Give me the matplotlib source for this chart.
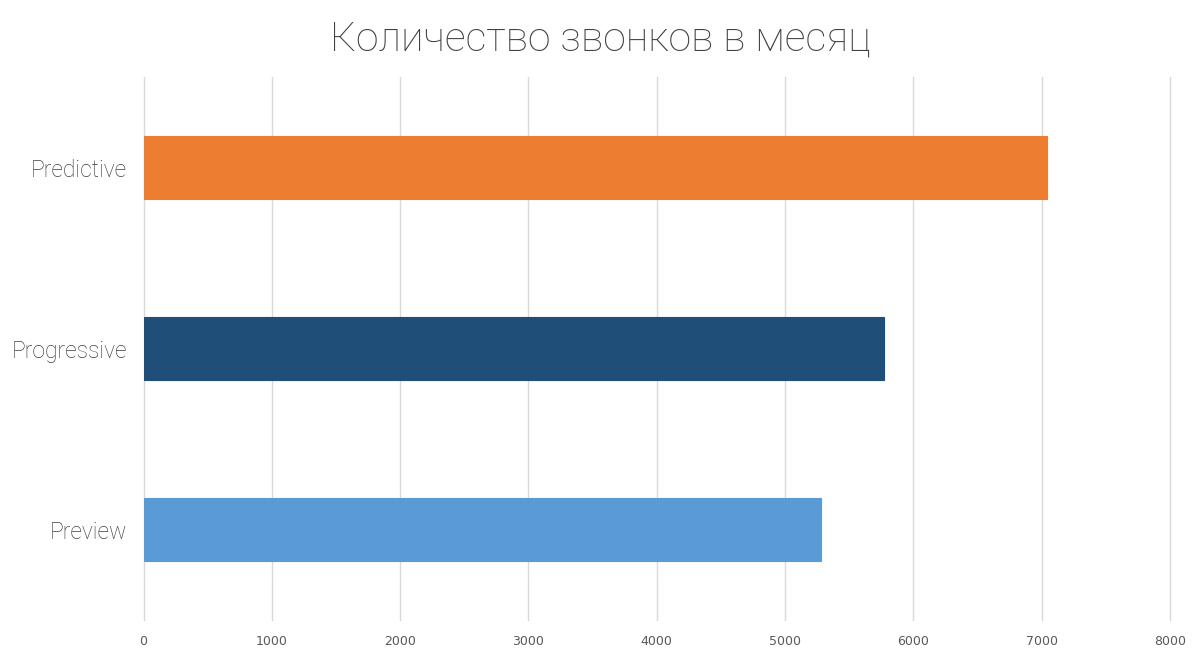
import matplotlib
matplotlib.use("Agg")
import matplotlib.pyplot as plt

# data
categories = ["Preview", "Progressive", "Predictive"]
calls = [5280, 5770, 7040]
colors = ["#5B9BD5", "#1F4E79", "#ED7D31"]
xticks = [0, 1000, 2000, 3000, 4000, 5000, 6000, 7000, 8000]
title = "Количество звонков в месяц"

fig = plt.figure(figsize=(12, 6.6), dpi=100)
ax = fig.add_axes([0.1196, 0.0606, 0.8554, 0.8227])

ax.barh(range(len(categories)), calls, height=0.35, color=colors,
        edgecolor=colors, linewidth=0.8, zorder=3)
ax.set_ylim(-0.5, 2.5)
ax.set_xlim(0, 8000)
ax.set_xticks(xticks)
ax.set_xticklabels([str(v) for v in xticks], fontsize=9, color="#595959")
ax.set_yticks(range(len(categories)))
ax.set_yticklabels(categories, fontsize=16.5, color="#404040",
                   family=["Roboto", "DejaVu Sans"], fontweight="light")
ax.tick_params(length=0, pad=12)
ax.tick_params(axis="x", pad=11)
ax.grid(axis="x", color="#d9d9d9", linewidth=1, zorder=0)
for gl in ax.get_xgridlines():
    gl.set_clip_on(False)
for s in ax.spines.values():
    s.set_visible(False)

fig.text(0.5, 0.94, title, ha="center", va="center", fontsize=29.5,
         color="#404040", family=["Roboto", "DejaVu Sans"], fontweight="light")

fig.savefig("out.png", dpi=100)
